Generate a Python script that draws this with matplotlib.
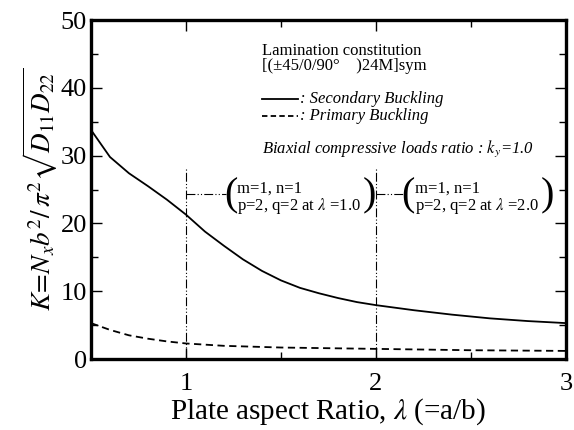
import matplotlib
matplotlib.use("Agg")
import matplotlib.pyplot as plt

plt.rcParams['font.family'] = ['Liberation Serif', 'DejaVu Serif']
plt.rcParams['mathtext.fontset'] = 'stix'

# aspect ratio lambda and buckling coefficient K
lam_sec = [0.5, 0.6, 0.7, 0.8, 0.9, 1.0, 1.1, 1.2, 1.3, 1.4, 1.5, 1.6, 1.7,
           1.8, 1.9, 2.0, 2.2, 2.4, 2.6, 2.8, 3.0]
k_sec = [33.8, 29.8, 27.4, 25.5, 23.5, 21.3, 18.8, 16.7, 14.7, 13.0, 11.6,
         10.5, 9.7, 9.0, 8.4, 7.95, 7.2, 6.55, 6.0, 5.6, 5.3]
lam_pri = [0.5, 0.6, 0.7, 0.8, 0.9, 1.0, 1.2, 1.5, 2.0, 2.5, 3.0]
k_pri = [5.3, 4.3, 3.5, 3.0, 2.6, 2.3, 1.95, 1.7, 1.5, 1.3, 1.2]

mode_lam = [1.0, 2.0]
mode_labels = ["m=1, n=1\np=2, q=2 at $\\lambda$ =1.0",
               "m=1, n=1\np=2, q=2 at $\\lambda$ =2.0"]

fig = plt.figure(figsize=(5.74, 4.30), dpi=100)
ax = fig.add_axes([0.1585, 0.165, 0.8275, 0.7884])

ax.plot(lam_sec, k_sec, color='black', lw=1.3)
ax.plot(lam_pri, k_pri, color='black', lw=1.3, ls=(0, (4, 2.5)))

dd = (0, (8, 2, 1, 2, 1, 2))
fs = 12
for i, l in enumerate(mode_lam):
    ax.plot([l, l], [0, 28.3], color='black', lw=0.8, ls=dd)
    bx = l + 0.20 if i == 0 else l + 0.135
    ax.plot([l, bx + 0.01], [24.4, 24.4], color='black', lw=0.8, ls=dd)
    ax.text(bx, 24.1, "(", fontsize=29, va='center', ha='left')
    ax.text(bx + 0.07, 23.7, mode_labels[i], fontsize=fs, va='center',
            ha='left', linespacing=0.95)
    rx = 1.93 if i == 0 else 2.865
    ax.text(rx, 24.1, ")", fontsize=29, va='center', ha='left')

ax.text(1.40, 44.9, "Lamination constitution", fontsize=fs, va='baseline')
ax.text(1.40, 42.7, "[(\u00b145/0/90\u00b0    )24M]sym", fontsize=fs,
        va='baseline')
ax.plot([1.40, 1.59], [38.3, 38.3], color='black', lw=1.3)
ax.plot([1.40, 1.59], [35.8, 35.8], color='black', lw=1.3, ls=(0, (3, 1.8)))
ax.text(1.60, 38.3, ": Secondary Buckling", fontsize=fs, va='center',
        style='italic')
ax.text(1.60, 35.8, ": Primary Buckling", fontsize=fs, va='center',
        style='italic')
ax.text(1.40, 30.4, "Biaxial compressive loads ratio : $k_y$=1.0",
        fontsize=fs, va='baseline', style='italic')

ax.set_xlim(0.5, 3)
ax.set_ylim(0, 50)
ax.set_xticks([1, 2, 3])
ax.set_xticks([1.5, 2.5], minor=True)
ax.set_yticks(range(0, 51, 10))
ax.set_yticks(range(5, 50, 10), minor=True)
ax.tick_params(which='both', direction='in', top=True, right=True,
               labelsize=19, width=1)
ax.tick_params(which='major', length=8)
ax.tick_params(which='minor', length=5)
ax.tick_params(axis='x', pad=10)
ax.tick_params(axis='y', pad=3)
for s in ax.spines.values():
    s.set_linewidth(2.4)

ax.set_xlabel("Plate aspect Ratio, $\\lambda$ (=a/b)", fontsize=21, labelpad=1)
ax.set_ylabel("$K\\!=\\!N_x b^2/\\,\\pi^2\\sqrt{D_{11}D_{22}}$", fontsize=19.5,
              labelpad=0)

fig.savefig("out.png", dpi=100)
